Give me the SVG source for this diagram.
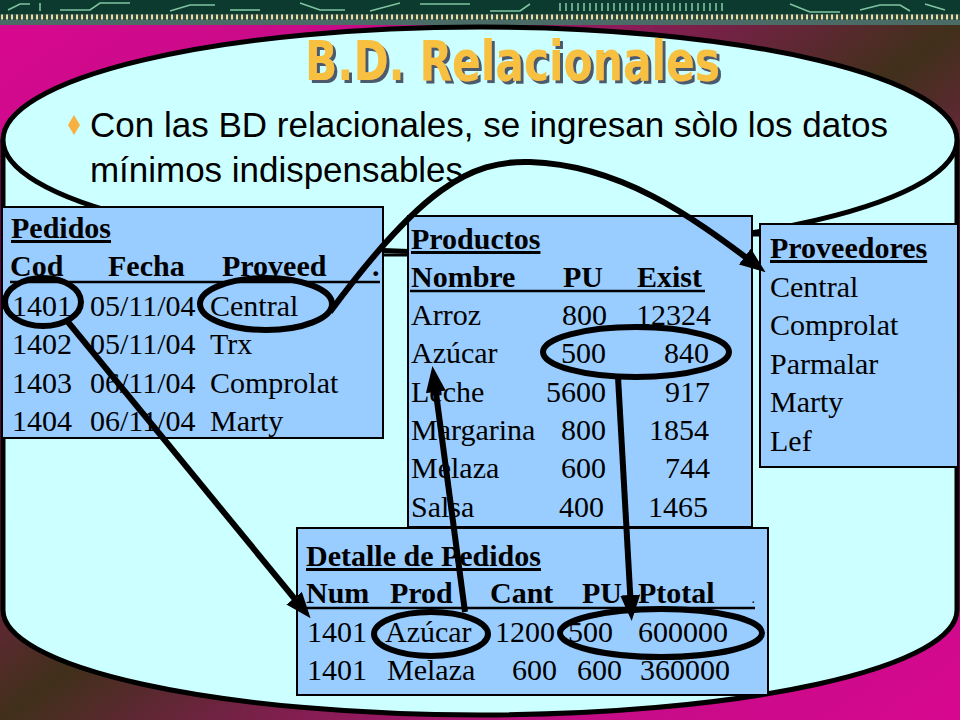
<svg xmlns="http://www.w3.org/2000/svg" width="960" height="720" viewBox="0 0 960 720">
<defs>
<linearGradient id="bg" x1="0" y1="0" x2="1" y2="1">
<stop offset="0" stop-color="#d80890"/>
<stop offset="0.2" stop-color="#c40c86"/>
<stop offset="0.5" stop-color="#40301a"/>
<stop offset="0.8" stop-color="#c40c86"/>
<stop offset="1" stop-color="#d80890"/>
</linearGradient>
<pattern id="dash" x="0" y="14" width="5" height="6" patternUnits="userSpaceOnUse">
<rect width="5" height="6" fill="#2f4c44"/>
<rect x="1" y="0.5" width="2" height="5" fill="#e6dfa6"/>
</pattern>
<marker id="arr" viewBox="0 0 26 20" refX="14" refY="10" markerWidth="26" markerHeight="20" orient="auto" markerUnits="userSpaceOnUse">
<path d="M0,0 L26,10 L0,20 Z" fill="#000"/>
</marker>
<filter id="sh" x="-5%" y="-20%" width="115%" height="150%">
<feDropShadow dx="3" dy="3" stdDeviation="0.3" flood-color="#4c5a6c" flood-opacity="1"/>
</filter>
<style>
.t{font-family:"Liberation Serif","Times New Roman",serif;font-size:30px;fill:#000}
.b{font-weight:bold}
.u{text-decoration:underline}
.box{fill:#99ccff;stroke:#000;stroke-width:2}
.ul{stroke:#000;stroke-width:2.5}
.ov{fill:none;stroke:#000;stroke-width:6}
.con{fill:none;stroke:#000;stroke-width:6}
.trace{fill:none;stroke:#7fc4a0;stroke-width:1.6}
</style>
</defs>

<!-- background -->
<rect x="0" y="24" width="960" height="696" fill="url(#bg)"/>
<rect x="0" y="0" width="960" height="14" fill="#0c3a2e"/>
<g class="trace">
<path d="M8,10 L20,4 L30,4"/><path d="M40,3 L40,11"/><path d="M60,10 L90,10 L100,3 L130,3"/>
<path d="M170,11 L190,5 L215,5"/><path d="M230,10 L260,10"/><path d="M300,3 L320,10 L345,10"/>
<path d="M370,11 L400,3"/><path d="M420,4 L470,4"/><path d="M490,11 L520,11 L530,4"/>
<path d="M560,3 L560,11 M566,3 L566,11 M572,3 L572,11 M578,3 L578,11 M584,3 L584,11 M590,3 L590,11 M596,3 L596,11 M602,3 L602,11 M608,3 L608,11 M614,3 L614,11 M620,3 L620,11 M626,3 L626,11 M632,3 L632,11 M638,3 L638,11 M644,3 L644,11 M650,3 L650,11 M656,3 L656,11 M662,3 L662,11 M668,3 L668,11 M674,3 L674,11 M680,3 L680,11 M686,3 L686,11 M692,3 L692,11 M698,3 L698,11 M704,3 L704,11 M710,3 L710,11 M716,3 L716,11 M722,3 L722,11"/>
<path d="M790,4 L810,12 L840,12"/><path d="M860,10 L880,5 L900,5 L910,11"/><path d="M925,4 L945,10"/>
</g>
<rect x="0" y="14" width="960" height="6" fill="url(#dash)"/>
<rect x="0" y="20" width="960" height="5" fill="#4b6b66"/>

<!-- cylinder -->
<path d="M3,140 L3,610 A477,105 0 0 0 957,610 L957,140 Z" fill="#ccffff"/>
<path d="M3,140 L3,610 A477,105 0 0 0 957,610 L957,140" fill="none" stroke="#000" stroke-width="5"/>
<ellipse cx="480" cy="140" rx="477" ry="113" fill="#ccffff" stroke="#000" stroke-width="5"/>

<!-- title -->
<text x="305" y="80" textLength="415" lengthAdjust="spacingAndGlyphs" filter="url(#sh)" style="font-family:'Liberation Sans Narrow','DejaVu Sans Condensed','Liberation Sans',sans-serif;font-size:56px;font-weight:bold;fill:#f8c040">B.D. Relacionales</text>

<!-- bullet -->
<path d="M74,115 L80,125 L74,135 L68,125 Z" fill="#f8b040"/>
<g style="font-family:'Liberation Sans Narrow','Liberation Sans',Arial,sans-serif;font-size:35px;fill:#000">
<text x="90" y="137" textLength="798" lengthAdjust="spacingAndGlyphs">Con las BD relacionales, se ingresan sòlo los datos</text>
<text x="90" y="182" textLength="373" lengthAdjust="spacingAndGlyphs">mínimos indispensables</text>
</g>

<!-- Pedidos -->
<g id="pedidos">
<rect class="box" x="2" y="207" width="381" height="231"/>
<text class="t b u" x="11" y="238">Pedidos</text>
<text class="t b" x="10" y="276">Cod</text>
<text class="t b" x="108" y="276">Fecha</text>
<text class="t b" x="222" y="276">Proveed</text>
<text class="t b" x="372" y="276">.</text>
<line class="ul" x1="10" y1="282" x2="380" y2="282"/>
<text class="t" x="12" y="316">1401</text><text class="t" x="90" y="316">05/11/04</text><text class="t" x="210" y="316">Central</text>
<text class="t" x="12" y="354">1402</text><text class="t" x="90" y="354">05/11/04</text><text class="t" x="210" y="354">Trx</text>
<text class="t" x="12" y="393">1403</text><text class="t" x="90" y="393">06/11/04</text><text class="t" x="210" y="393">Comprolat</text>
<text class="t" x="12" y="431">1404</text><text class="t" x="90" y="431">06/11/04</text><text class="t" x="210" y="431">Marty</text>
</g>

<!-- Productos -->
<g id="productos">
<rect class="box" x="408" y="216" width="344" height="311"/>
<text class="t b u" x="411" y="249">Productos</text>
<text class="t b" x="411" y="287">Nombre</text>
<text class="t b" x="563" y="287">PU</text>
<text class="t b" x="637" y="287">Exist</text>
<line class="ul" x1="410" y1="291" x2="705" y2="291"/>
<g class="t">
<text x="411" y="325">Arroz</text><text x="607" y="325" text-anchor="end">800</text><text x="711" y="325" text-anchor="end">12324</text>
<text x="411" y="363">Azúcar</text><text x="606" y="363" text-anchor="end">500</text><text x="709" y="363" text-anchor="end">840</text>
<text x="411" y="402">Leche</text><text x="606" y="402" text-anchor="end">5600</text><text x="710" y="402" text-anchor="end">917</text>
<text x="411" y="440">Margarina</text><text x="606" y="440" text-anchor="end">800</text><text x="709" y="440" text-anchor="end">1854</text>
<text x="411" y="478">Melaza</text><text x="606" y="478" text-anchor="end">600</text><text x="710" y="478" text-anchor="end">744</text>
<text x="411" y="517">Salsa</text><text x="604" y="517" text-anchor="end">400</text><text x="708" y="517" text-anchor="end">1465</text>
</g>
</g>

<!-- Proveedores -->
<g id="proveedores">
<rect class="box" x="760" y="224" width="198" height="243"/>
<text class="t b u" x="770" y="258">Proveedores</text>
<text class="t" x="770" y="297">Central</text>
<text class="t" x="770" y="335">Comprolat</text>
<text class="t" x="770" y="374">Parmalar</text>
<text class="t" x="770" y="412">Marty</text>
<text class="t" x="770" y="451">Lef</text>
</g>

<!-- Detalle de Pedidos -->
<g id="detalle">
<rect class="box" x="297" y="528" width="471" height="167"/>
<text class="t b u" x="306" y="566">Detalle de Pedidos</text>
<text class="t b" x="306" y="603">Num</text>
<text class="t b" x="390" y="603">Prod</text>
<text class="t b" x="490" y="603">Cant</text>
<text class="t b" x="582" y="603">PU</text>
<text class="t b" x="638" y="603">Ptotal</text>
<text class="t b" x="752" y="603" style="font-size:10px">.</text>
<line class="ul" x1="306" y1="608" x2="755" y2="608"/>
<text class="t" x="307" y="642">1401</text><text class="t" x="385" y="642">Azúcar</text><text class="t" x="495" y="642">1200</text><text class="t" x="568" y="642">500</text><text class="t" x="638" y="642">600000</text>
<text class="t" x="307" y="680">1401</text><text class="t" x="387" y="680">Melaza</text><text class="t" x="512" y="680">600</text><text class="t" x="577" y="680">600</text><text class="t" x="640" y="680">360000</text>
</g>

<!-- connectors -->
<g id="connectors">
<line x1="383" y1="255" x2="408" y2="255" stroke="#000" stroke-width="3"/>
<line x1="752" y1="235" x2="760" y2="235" stroke="#000" stroke-width="3"/>
<ellipse class="ov" cx="43" cy="302" rx="38" ry="24"/>
<ellipse class="ov" cx="266" cy="304" rx="66" ry="26"/>
<ellipse class="ov" cx="636" cy="352" rx="93" ry="25"/>
<ellipse class="ov" cx="431" cy="634" rx="57" ry="22"/>
<ellipse class="ov" cx="661" cy="633" rx="101" ry="24"/>
<path class="con" d="M330,312 C420,190 470,160 530,162 C620,165 690,215 756,265" marker-end="url(#arr)"/>
<path class="con" d="M68,322 L303,609" marker-end="url(#arr)"/>
<path class="con" d="M465,612 L434,378" marker-end="url(#arr)"/>
<path class="con" d="M618,377 L631,609" marker-end="url(#arr)"/>
</g>
</svg>
